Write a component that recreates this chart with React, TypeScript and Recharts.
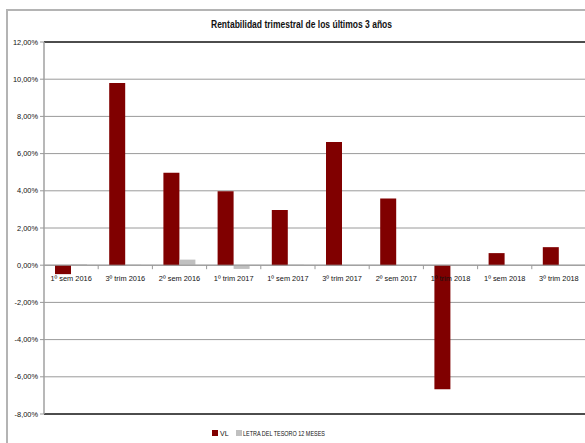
import React from 'react';
import { BarChart, Bar, XAxis, YAxis, CartesianGrid, ReferenceLine } from 'recharts';

const categories = ['1º sem 2016', '3º trim 2016', '2º sem 2016', '1º trim 2017', '1º sem 2017', '3º trim 2017', '2º sem 2017', '1º trim 2018', '1º sem 2018', '3º trim 2018'];
const vlValues = [-0.48, 9.8, 4.97, 3.98, 2.97, 6.62, 3.58, -6.67, 0.65, 0.97];
const letraValues = [0.05, 0.03, 0.3, -0.2, 0.03, 0, 0, 0, 0, 0];
const yTicks = [-8, -6, -4, -2, 0, 2, 4, 6, 8, 10, 12];
const seriesNames = ['VL', 'LETRA DEL TESORO 12 MESES'];
const seriesColors = ['#800000', '#c0c0c0'];
const title = 'Rentabilidad trimestral de los últimos 3 años';

const data = categories.map((c, i) => ({ cat: c, vl: vlValues[i], letra: letraValues[i] }));

const CHART_W = 600;
const CHART_H = 443;
const X_H = 1;
const M = { top: 42, right: 14, bottom: 28, left: 0 };
const Y_W = 44;
const Y_MIN = -8;
const Y_MAX = 12;
const plotH = CHART_H - M.top - M.bottom - X_H;
const plotW = CHART_W - M.left - M.right - Y_W;
const band = plotW / categories.length;
const FONT = '"Liberation Sans", Arial, sans-serif';

const fmt = (v: number) => v.toFixed(2).replace('.', ',') + '%';

const renderCatTick = (props: any) => {
  const { x, payload } = props;
  const zeroY = M.top + plotH * (Y_MAX - 0) / (Y_MAX - Y_MIN);
  const bx = x + band / 2;
  return (
    <g key={`ct-${payload.value}`}>
      <line x1={bx} x2={bx} y1={zeroY} y2={zeroY + 4} stroke="#999" strokeWidth={1} />
      <text x={x} y={zeroY + 16} textAnchor="middle" fontSize={7.4} fontFamily={FONT} fill="#111">
        {payload.value}
      </text>
    </g>
  );
};

const renderYTick = (props: any) => {
  const { x, y, payload } = props;
  return (
    <text key={`yt-${payload.value}`} x={x} y={y + 2.5} textAnchor="end" fontSize={7.4} fontFamily={FONT} fill="#111">
      {fmt(payload.value)}
    </text>
  );
};

export default function App() {
  return (
    <div style={{ position: 'fixed', left: 0, top: 0, width: 585, height: 443, overflow: 'hidden', background: '#fff' }}>
      <div style={{ position: 'absolute', left: 6, top: 9, width: 620, height: 480, border: '2px solid #b4b4b4', boxSizing: 'border-box' }} />
      <div style={{ position: 'absolute', left: 0, top: 0 }}>
        <BarChart width={CHART_W} height={CHART_H} data={data} margin={M} barGap={0} barSize={16}>
          <CartesianGrid vertical={false} stroke="#9a9a9a" strokeWidth={1} />
          <XAxis dataKey="cat" height={X_H} axisLine={false} tickLine={false} tick={renderCatTick} interval={0} />
          <YAxis
            width={Y_W}
            domain={[Y_MIN, Y_MAX]}
            ticks={yTicks}
            axisLine={{ stroke: '#a0a0a0', strokeWidth: 1.5 }}
            tickLine={{ stroke: '#999' }}
            tickSize={4}
            tickMargin={2}
            tick={renderYTick}
            interval={0}
          />
          <ReferenceLine y={Y_MAX} stroke="#222" strokeWidth={1.5} />
          <ReferenceLine y={Y_MIN} stroke="#222" strokeWidth={1.5} />
          <Bar dataKey="vl" name={seriesNames[0]} fill={seriesColors[0]} isAnimationActive={false} />
          <Bar dataKey="letra" name={seriesNames[1]} fill={seriesColors[1]} isAnimationActive={false} />
          <ReferenceLine y={0} stroke="#999" strokeWidth={1} />
        </BarChart>
      </div>
      <svg width={585} height={443} style={{ position: 'absolute', left: 0, top: 0, pointerEvents: 'none' }}>
        <text x={211} y={28} fontSize={10} fontWeight="bold" fontFamily={FONT} fill="#111" textLength={181} lengthAdjust="spacingAndGlyphs">
          {title}
        </text>
        <rect x={212} y={430} width={6} height={6} fill={seriesColors[0]} />
        <text x={220} y={436} fontSize={7} fontFamily={FONT} fill="#111">{seriesNames[0]}</text>
        <rect x={236} y={430} width={6} height={6} fill={seriesColors[1]} />
        <text x={243} y={436} fontSize={7} fontFamily={FONT} fill="#111" textLength={82} lengthAdjust="spacingAndGlyphs">{seriesNames[1]}</text>
      </svg>
    </div>
  );
}
